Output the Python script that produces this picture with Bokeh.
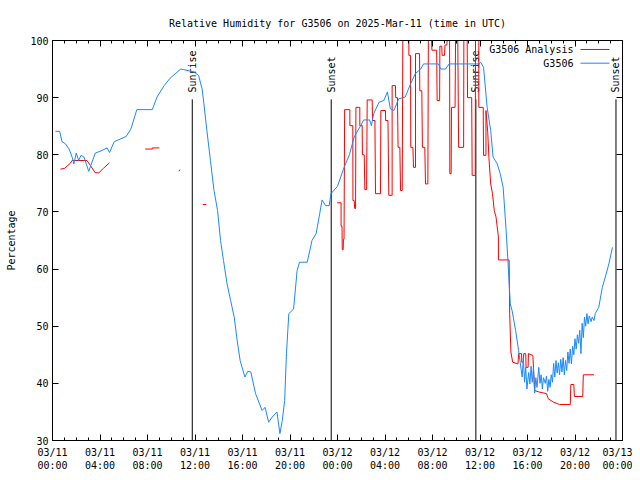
import math
import numpy as np
from bokeh.plotting import figure
from bokeh.models import Range1d, LinearAxis, FixedTicker, Label, Arrow
from bokeh.core.properties import value
from bokeh.embed import file_html
from bokeh.resources import INLINE

FONT = "DejaVu Sans Mono"
NAN = float("nan")

# ---- data (hours since 03/11 00:00 UTC) ----
tick_hours = [0, 4, 8, 12, 16, 20, 24, 28, 32, 36, 40, 44, 48]
tick_labels = ["03/11\n00:00", "03/11\n04:00", "03/11\n08:00", "03/11\n12:00",
               "03/11\n16:00", "03/11\n20:00", "03/12\n00:00", "03/12\n04:00",
               "03/12\n08:00", "03/12\n12:00", "03/12\n16:00", "03/12\n20:00",
               "03/13\n00:00"]
y_ticks = [30, 40, 50, 60, 70, 80, 90, 100]

sun_hours = [11.77, 23.47, 35.65, 47.45]
sun_labels = ["Sunrise", "Sunset", "Sunrise", "Sunset"]

obs_hours = [0.25, 0.6, 0.8, 1.1, 1.4, 1.65, 1.8, 2.0, 2.2, 2.4, 2.65, 3.05, 3.6, 4.0,
             4.6, 4.8, 5.2, 6.2, 6.6, 7.1, 8.4, 8.8, 9.4, 9.9, 10.8, 11.05, 11.9, 12.3,
             12.6, 12.75, 13.0, 13.3, 13.6, 13.9, 14.15, 14.4, 14.7, 15.0, 15.3, 15.55,
             15.8, 16.2, 16.45, 16.7, 17.1, 17.65, 17.9, 18.2, 18.5, 18.9, 19.15, 19.35,
             19.55, 19.7, 19.9, 20.3, 20.6, 20.8, 21.45, 21.85, 22.2, 22.5, 22.7, 23.0,
             23.3, 23.45, 24.0, 24.5, 25.0, 25.4, 25.95, 26.2, 26.7, 26.85, 27.05, 27.5,
             27.9, 28.2, 28.45, 28.75, 29.15, 29.7, 30.15, 30.55, 31.0, 31.25, 32.5, 32.7,
             33.1, 33.4, 35.9, 36.05, 36.3, 36.6, 36.9, 37.1, 37.45, 37.7, 37.95, 38.2,
             38.35, 38.55, 38.7, 39.0, 39.25, 39.55, 39.65, 39.75, 39.85, 39.95, 40.1,
             40.2, 40.3, 40.4, 40.5, 40.6, 40.7, 40.8, 40.95, 41.05, 41.15, 41.25, 41.35,
             41.5, 41.6, 41.7, 41.8, 41.9, 42.0, 42.1, 42.2, 42.3, 42.4, 42.5, 42.6, 42.7,
             42.8, 42.9, 43.0, 43.1, 43.2, 43.3, 43.4, 43.5, 43.6, 43.7, 43.8, 43.9, 44.0,
             44.1, 44.2, 44.3, 44.4, 44.5, 44.6, 44.7, 44.8, 44.9, 45.0, 45.1, 45.2,
             45.35, 45.45, 45.6, 45.7, 46.0, 46.3, 46.55, 46.85, 47.15]
obs_values = [84.1, 84.1, 82.3, 81.9, 81.0, 79.6, 78.4, 80.3, 79.0, 79.9, 79.6, 77.1, 80.3, 80.6,
              81.2, 80.4, 82.3, 83.2, 84.5, 87.9, 87.9, 90.1, 92.1, 93.4, 95.0, 94.9, 94.5, 93.9,
              91.5, 88.9, 84.25, 79.0, 73.75, 70.25, 65.0, 61.5, 57.4, 54.5, 51.6, 47.5,
              44.0, 41.1, 42.1, 42.0, 38.2, 35.25, 35.8, 33.2, 34.1, 35.0, 31.2, 33.5,
              37.0, 45.2, 52.2, 53.0, 59.75, 61.2, 61.2, 65.0, 66.2, 69.7, 72.1, 71.1,
              71.1, 73.2, 74.5, 77.5, 80.0, 83.1, 85.1, 86.1, 86.1, 85.1, 87.2, 89.2,
              89.5, 91.0, 88.05, 87.75, 89.8, 90.1, 92.4, 94.2, 95.0, 95.9, 95.9, 95.0,
              95.0, 95.9, 95.9, 96.2, 95.3, 88.3, 84.25, 79.6, 78.4, 76.7, 74.3, 66.75,
              61.5, 53.9, 52.75, 49.25, 45.75, 41.1, 44.5, 40.2, 42.8, 39.0, 41.9,
              39.9, 43.0, 40.2, 42.8, 38.3, 41.0, 39.3, 42.8, 40.0, 41.5, 39.0, 41.0,
              40.0, 41.3, 38.6, 40.7, 39.3, 41.5, 40.2, 43.5, 41.1, 44.0, 41.8, 43.6, 41.5,
              44.2, 42.0, 44.5, 41.5, 44.0, 42.25, 45.5, 43.5, 46.0, 43.4, 46.5, 45.0, 47.8,
              46.0, 48.5, 47.0, 49.3, 45.2, 50.5, 48.0, 51.6, 50.0, 52.2, 50.4, 51.8,
              50.8, 51.6, 51.0, 52.2, 53.3, 56.8, 58.6, 60.9, 63.8]

ana_hours = [0.67, 1.0, 1.5, 1.65, 2.9, 3.2, 3.6, 3.9, 4.3, 4.8, NAN,
             7.8, 8.4, 8.4, 9.0, NAN,
             10.65, 10.72, NAN,
             12.65, 12.95, NAN,
             23.97, 24.3, 24.3, 24.38, 24.4, 24.48, 24.5, 24.55, 24.6, 25.04, 25.04, 25.29,
             25.3, 25.4, 25.45, 25.52, 25.55, 25.88, 25.88, 26.08, 26.1, 26.25, 26.3, 26.45,
             26.5, 26.92, 26.95, 27.15, 27.2, 27.62, 27.65, 28.04, 28.05, 28.25, 28.32, 28.6,
             28.6, 28.88, 28.9, 29.05, 29.1, 29.25, 29.31, 29.45, 29.5, 30.01, 30.01, 30.15,
             30.17, 30.35, 30.4, 30.57, 30.57, 30.91, 30.93, 31.1, 31.15, 31.35, 31.41, 31.61,
             31.65, 31.92, 31.95, 32.35, 32.39, 32.6, 32.62, 32.78, 32.81, 33.01, 33.05, 33.2,
             33.24, 33.44, 33.46, 33.57, 33.6, 33.9, 33.94, 34.13, 34.2, 34.62, 34.64, 34.92,
             34.95, 35.3, 35.34, 35.6, 35.62, 35.9, 35.9, 36.27, 36.3, 36.5, 36.5, 36.65,
             36.75, 36.9, 37.05, 37.2, 37.35, 37.55, 37.55, 38.45, 38.5, 38.6, 38.75, 39.2,
             39.25, 39.5, 39.52, 39.65, 39.68, 39.85, 39.88, 40.05, 40.08, 40.45, 40.6, 40.95,
             41.6, 41.75, 42.2, 42.7, 43.6, 43.65, 43.9, 43.95, 44.65, 44.7, 45.6]
ana_values = [77.5, 77.6, 78.5, 79.0, 79.0, 78.1, 76.85, 76.85, 77.65, 78.6, NAN,
              81.0, 81.0, 81.2, 81.2, NAN,
              77.1, 77.4, NAN,
              71.3, 71.3, NAN,
              71.6, 71.6, 67.5, 67.5, 63.4, 63.4, 65.2, 65.2, 87.9, 87.9, 85.1, 85.1,
              72.0, 72.0, 70.6, 70.6, 88.3, 88.3, 85.1, 85.1, 80.0, 80.0, 73.9, 73.9,
              89.6, 89.6, 86.0, 86.0, 73.2, 73.2, 87.75, 87.75, 86.0, 86.0, 72.9, 72.9,
              92.1, 92.1, 90.0, 90.0, 81.3, 81.3, 73.75, 73.75, 100.0, 100.0, 97.4, 97.4,
              81.3, 81.3, 77.8, 77.8, 97.7, 97.7, 91.2, 91.2, 81.3, 81.3, 74.9, 74.9,
              100.0, 100.0, 98.3, 98.3, 89.5, 89.5, 99.0, 99.0, 97.4, 97.4, 99.2, 99.2,
              100.0, 100.0, 76.7, 76.7, 88.3, 88.3, 100.0, 100.0, 81.3, 81.3, 100.0, 100.0,
              90.0, 90.0, 76.4, 76.4, 100.0, 100.0, 88.3, 88.3, 79.9, 79.9, 87.75, 84.0,
              79.5, 74.9, 73.2, 70.25, 69.1, 65.6, 61.6, 61.6, 52.2, 45.5, 43.7, 43.4,
              45.2, 45.2, 43.7, 43.7, 45.2, 45.2, 42.8, 42.8, 45.2, 44.9, 38.75, 38.5,
              38.2, 37.3, 36.7, 36.3, 36.3, 39.8, 39.8, 37.7, 37.7, 41.5, 41.5]

series_names = ["G3506 Analysis", "G3506"]
series_colors = ["#ff0000", "#1a88ff"]

# ---- figure ----
p = figure(frame_width=570, frame_height=400, output_backend="svg", toolbar_location=None,
           x_range=Range1d(0, 48), y_range=Range1d(30, 100),
           min_border_left=52, min_border_right=10, min_border_top=40, min_border_bottom=32)
p.title.text = "Relative Humidity for G3506 on 2025-Mar-11 (time in UTC)"
p.title.text_font = FONT
p.title.text_font_size = "10px"
p.title.text_font_style = "normal"
p.title.text_color = "black"
p.title.align = "center"
p.title.standoff = 23
p.grid.visible = False
p.outline_line_color = "black"
p.outline_line_width = 1
p.background_fill_color = "white"
p.border_fill_color = "white"

xt = FixedTicker(ticks=tick_hours, minor_ticks=list(range(49)))
yt = FixedTicker(ticks=y_ticks, minor_ticks=[])

def style_axis(ax):
    ax.major_tick_in = 6
    ax.major_tick_out = 0
    ax.minor_tick_in = 3
    ax.minor_tick_out = 0
    ax.major_tick_line_color = "black"
    ax.minor_tick_line_color = "black"
    ax.axis_line_color = "black"
    ax.major_label_text_font = FONT
    ax.major_label_text_font_size = "10px"
    ax.major_label_text_color = "black"
    ax.axis_label_text_font = FONT
    ax.axis_label_text_font_size = "10px"
    ax.axis_label_text_font_style = "normal"
    ax.axis_label_text_color = "black"
    ax.major_label_standoff = 4

xa = p.xaxis[0]
xa.ticker = xt
xa.major_label_overrides = {h: l for h, l in zip(tick_hours, tick_labels)}
style_axis(xa)
xa.major_label_standoff = 6

ya = p.yaxis[0]
ya.ticker = yt
ya.axis_label = "Percentage"
ya.axis_label_standoff = 10
style_axis(ya)
ya.minor_tick_in = 0

# mirrored tick axes (no labels)
top = LinearAxis(ticker=FixedTicker(ticks=tick_hours, minor_ticks=list(range(49))))
style_axis(top)
top.major_label_overrides = {h: "" for h in tick_hours}
top.major_label_standoff = 0
p.add_layout(top, "above")
right = LinearAxis(ticker=FixedTicker(ticks=y_ticks, minor_ticks=[]))
style_axis(right)
right.major_label_overrides = {v: "" for v in y_ticks}
right.major_label_standoff = 0
right.minor_tick_in = 0
p.add_layout(right, "right")

# sunrise / sunset markers
SUN_TOP = 89.7
p.segment(x0=sun_hours, y0=[30] * len(sun_hours), x1=sun_hours, y1=[SUN_TOP] * len(sun_hours),
          line_color="black", line_width=1)
p.text(x=sun_hours, y=[90.9] * len(sun_hours), text=sun_labels, angle=math.pi / 2,
       text_align="left", text_baseline="middle", text_font=value(FONT),
       text_font_size="10px", text_color="black")

# data lines
p.line(ana_hours, ana_values, line_color=series_colors[0], line_width=1)
p.line(obs_hours, obs_values, line_color=series_colors[1], line_width=1)

# legend (gnuplot style: text then sample)
for name, col, yy in zip(series_names, series_colors, [98.43, 96.03]):
    p.add_layout(Label(x=43.87, y=yy, text=name, text_align="right", text_baseline="middle",
                       text_font=FONT, text_font_size="10px", text_color="black"))
    p.add_layout(Arrow(x_start=44.46, y_start=yy, x_end=46.9, y_end=yy, end=None,
                       line_color=col, line_width=1))

open("out.html", "w").write(file_html(p, INLINE))
